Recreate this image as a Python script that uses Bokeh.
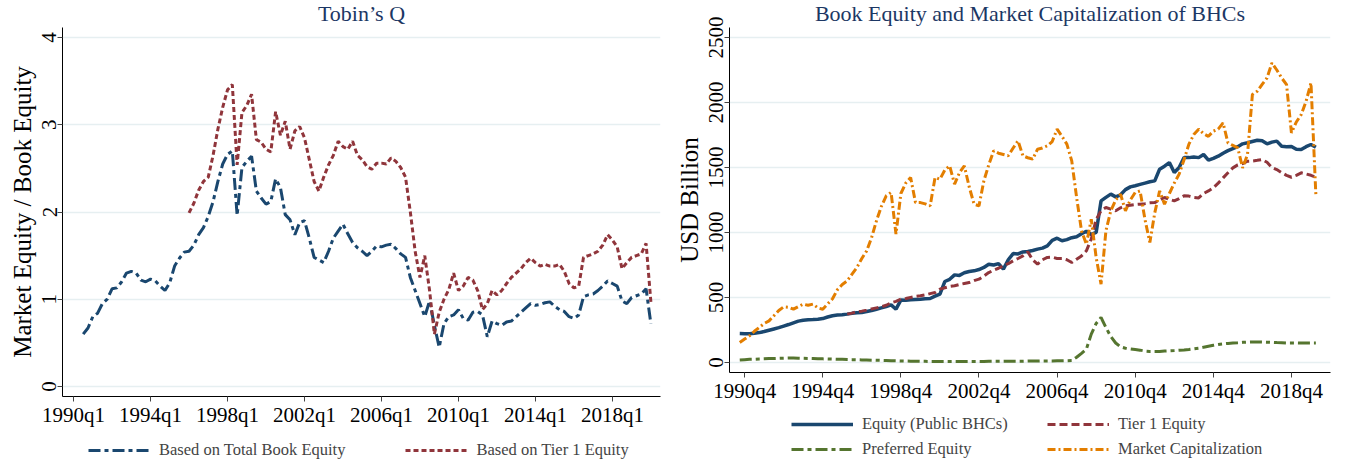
from bokeh.plotting import figure
from bokeh.models import Range1d, Legend, LegendItem, FixedTicker
from bokeh.layouts import row, column
from bokeh.embed import file_html
from bokeh.resources import INLINE

# ---------------- data: left panel (Tobin's Q) ----------------
tq_total_start = "1990q3"
tq_total = [
    0.60, 0.67,
    0.80, 0.84, 0.95, 1.00,
    1.12, 1.13, 1.20, 1.30,
    1.32, 1.30, 1.22, 1.20,
    1.23, 1.21, 1.15, 1.10,
    1.19, 1.38, 1.47, 1.54,
    1.55, 1.62, 1.74, 1.82,
    1.95, 2.12, 2.35, 2.55,
    2.66, 2.70, 1.96, 2.51,
    2.58, 2.64, 2.24, 2.16,
    2.09, 2.12, 2.38, 2.28,
    1.97, 1.91, 1.74, 1.88,
    1.90, 1.70, 1.48, 1.45,
    1.42, 1.55, 1.70, 1.78,
    1.86, 1.75, 1.65, 1.59,
    1.55, 1.50, 1.55, 1.61,
    1.60, 1.62, 1.63, 1.58,
    1.52, 1.48, 1.25, 1.10,
    0.95, 0.80, 0.98, 0.70,
    0.45, 0.72, 0.80, 0.82,
    0.88, 0.78, 0.76, 0.85,
    0.86, 0.82, 0.57, 0.75,
    0.72, 0.70, 0.74, 0.75,
    0.80, 0.85, 0.90, 0.95,
    0.93, 0.94, 0.96, 0.97,
    0.92, 0.88, 0.86, 0.80,
    0.78, 0.82, 1.03, 1.05,
    1.06, 1.10, 1.15, 1.21,
    1.18, 1.15, 0.98, 0.95,
    1.02, 1.04, 1.06, 1.12,
    0.72,
]
tq_tier1_start = "1996q1"
tq_tier1 = [
    1.99, 2.10, 2.25, 2.35,
    2.40, 2.65, 2.95, 3.20,
    3.40, 3.46, 2.54, 3.14,
    3.22, 3.35, 2.83, 2.80,
    2.72, 2.69, 3.15, 2.88,
    3.04, 2.72, 2.93, 2.98,
    2.85, 2.60, 2.35, 2.24,
    2.40, 2.54, 2.65, 2.81,
    2.75, 2.72, 2.81, 2.65,
    2.60, 2.52, 2.49, 2.56,
    2.56, 2.55, 2.62, 2.58,
    2.51, 2.40, 2.00, 1.55,
    1.25, 1.50, 1.10, 0.60,
    0.85, 1.00, 1.11, 1.30,
    1.10, 1.15, 1.25, 1.22,
    1.10, 0.88, 0.95, 1.10,
    1.05, 1.10, 1.18, 1.25,
    1.30, 1.35, 1.42, 1.47,
    1.42, 1.38, 1.40, 1.38,
    1.38, 1.40, 1.32, 1.18,
    1.13, 1.15, 1.48, 1.50,
    1.52, 1.55, 1.62, 1.74,
    1.68, 1.60, 1.35, 1.42,
    1.48, 1.50, 1.52, 1.64,
    0.97,
]
left_tick_labels = ["1990q1", "1994q1", "1998q1", "2002q1", "2006q1", "2010q1", "2014q1", "2018q1"]
left_y_ticks = [0, 1, 2, 3, 4]

# ---------------- data: right panel (USD billion) ----------------
bhc_start = "1990q3"
equity_public = [
    223, 222,
    222, 225, 230, 238,
    248, 258, 268, 280,
    292, 305, 318, 325,
    328, 330, 333, 338,
    350, 360, 365, 368,
    372, 378, 382, 385,
    392, 400, 410, 420,
    430, 443, 410, 480,
    478, 482, 485, 487,
    490, 492, 510, 525,
    623, 640, 674, 670,
    690, 700, 705, 715,
    731, 756, 750, 761,
    718, 790, 838, 835,
    850, 854, 862, 872,
    880, 897, 940, 956,
    936, 945, 960, 967,
    990, 1010, 985, 1000,
    1243, 1270, 1295, 1274,
    1290, 1330, 1351, 1360,
    1370, 1380, 1390, 1397,
    1487, 1510, 1538, 1461,
    1500, 1577, 1576, 1580,
    1576, 1600, 1556, 1570,
    1587, 1610, 1630, 1646,
    1660, 1682, 1690, 1700,
    1710, 1705, 1682, 1695,
    1703, 1664, 1660, 1662,
    1640, 1638, 1660, 1677,
    1656,
]
tier1_start = "1996q1"
tier1_equity = [
    372, 380, 390, 395,
    403, 412, 420, 428,
    440, 460, 470, 487,
    492, 500, 508, 513,
    520, 530, 538, 564,
    575, 585, 590, 600,
    608, 615, 630, 641,
    665, 692, 710, 725,
    744, 760, 782, 800,
    820, 851, 790, 756,
    790, 808, 810, 800,
    800, 790, 769, 795,
    820, 859, 950, 1100,
    1167, 1192, 1180, 1167,
    1190, 1205, 1210, 1215,
    1218, 1222, 1228, 1230,
    1250, 1269, 1255, 1243,
    1260, 1282, 1280, 1270,
    1266, 1300, 1320, 1344,
    1380, 1420, 1460, 1497,
    1520, 1530, 1548, 1550,
    1555, 1561, 1540, 1500,
    1484, 1460, 1440, 1425,
    1440, 1459, 1450, 1440,
    1425,
]
preferred_equity = [
    20, 22,
    24, 25, 27, 28,
    30, 31, 32, 33,
    34, 34, 33, 32,
    31, 30, 29, 28,
    27, 26, 25, 24,
    23, 22, 21, 20,
    19, 18, 17, 16,
    15, 14, 13, 12,
    11, 10, 10, 9,
    9, 8, 8, 8,
    8, 8, 8, 8,
    8, 8, 8, 8,
    8, 9, 9, 9,
    9, 10, 10, 10,
    10, 11, 11, 11,
    12, 12, 12, 13,
    13, 14, 15, 40,
    70, 103, 218, 300,
    346, 269, 200, 150,
    120, 110, 105, 100,
    95, 88, 85, 85,
    85, 88, 90, 92,
    95, 97, 100, 105,
    110, 118, 125, 132,
    138, 143, 147, 150,
    152, 155, 157, 158,
    158, 157, 156, 155,
    153, 152, 150, 150,
    150, 149, 150, 150,
    150,
]
market_cap = [
    154, 180,
    205, 240, 270, 300,
    320, 360, 400, 428,
    425, 410, 430, 449,
    440, 449, 420, 410,
    450, 490, 560, 600,
    628, 680, 731, 800,
    859, 960, 1090, 1200,
    1282, 1308, 987, 1300,
    1380, 1423, 1230, 1230,
    1220, 1205, 1423, 1410,
    1480, 1513, 1372, 1460,
    1513, 1350, 1218, 1205,
    1397, 1520, 1628, 1610,
    1600, 1590, 1650, 1705,
    1590, 1575, 1564, 1641,
    1650, 1667, 1700, 1795,
    1740, 1680, 1551, 1269,
    1013, 910, 1102, 808,
    603, 1013, 1167, 1250,
    1295, 1167, 1250, 1308,
    1320, 1100, 923, 1150,
    1320, 1218, 1300, 1380,
    1449, 1560, 1680, 1753,
    1795, 1760, 1740, 1780,
    1795, 1843, 1689, 1670,
    1651, 1497, 1600, 2061,
    2087, 2140, 2189, 2305,
    2250, 2189, 2138, 1766,
    1850, 1907, 2010, 2151,
    1292,
]
right_tick_labels = ["1990q4", "1994q4", "1998q4", "2002q4", "2006q4", "2010q4", "2014q4", "2018q4"]
right_y_ticks = [0, 500, 1000, 1500, 2000, 2500]

# ---------------- helpers ----------------
def qnum(s):
    y, q = s.split("q")
    return int(y) * 4 + int(q) - 1

def xs(start, base, n):
    s = qnum(start) - qnum(base)
    return list(range(s, s + n))

NAVY = "#1a476f"
MAROON = "#90353b"
GREEN = "#55752f"
ORANGE = "#e37e00"
GRID = "#e6eff1"
TITLE_C = "#1c3764"
FONT = "Liberation Serif"

STYLES = {
    "total": dict(line_color=NAVY, line_width=3, line_dash="12 4 4 4"),
    "tier1_q": dict(line_color=MAROON, line_width=3, line_dash="5 3"),
    "equity": dict(line_color=NAVY, line_width=3.5),
    "tier1": dict(line_color=MAROON, line_width=3, line_dash="8 4"),
    "pref": dict(line_color=GREEN, line_width=3, line_dash="12 4 4 4"),
    "mcap": dict(line_color=ORANGE, line_width=3, line_dash="8 3 2 3"),
}

def style(p, xticks, xlabels, yticks):
    p.title.align = "center"
    p.title.vertical_align = "top"
    p.title.text_font = FONT
    p.title.text_font_size = "22px"
    p.title.text_font_style = "normal"
    p.title.text_color = TITLE_C
    p.title.standoff = 0
    p.outline_line_color = None
    p.background_fill_color = "white"
    p.border_fill_color = "white"
    p.xgrid.grid_line_color = None
    p.ygrid.grid_line_color = GRID
    p.ygrid.grid_line_width = 1.5
    p.xaxis.ticker = FixedTicker(ticks=xticks)
    p.xaxis.major_label_overrides = {t: l for t, l in zip(xticks, xlabels)}
    p.yaxis.ticker = FixedTicker(ticks=yticks)
    p.yaxis.major_label_orientation = "vertical"
    for ax in (p.xaxis, p.yaxis):
        ax.minor_tick_line_color = None
        ax.major_tick_in = 0
        ax.major_tick_out = 5
        ax.axis_line_color = "black"
        ax.major_tick_line_color = "#444444"
        ax.major_label_text_font = FONT
        ax.major_label_text_font_size = "21px"
        ax.major_label_text_color = "black"
        ax.axis_label_text_font = FONT
        ax.axis_label_text_font_style = "normal"
        ax.axis_label_text_color = "black"
        ax.major_label_standoff = 1
    p.yaxis.axis_label_text_font_size = "25px"
    p.yaxis.axis_label_standoff = 4

NAN = float("nan")

def legend_fig(width, height, entries, loc, spacing, label_width=None):
    f = figure(width=width, height=height, output_backend="svg", toolbar_location=None,
               x_range=Range1d(0, 1), y_range=Range1d(0, 1),
               x_axis_type=None, y_axis_type=None, min_border=0)
    f.outline_line_color = None
    f.grid.grid_line_color = None
    items = []
    for label, key in entries:
        r = f.line(x=[NAN], y=[NAN], **STYLES[key])   # style sample for the legend key only
        items.append(LegendItem(label=label, renderers=[r]))
    leg = Legend(items=items, location=loc, orientation="horizontal", ncols=2,
                 label_text_font=FONT, label_text_font_size="16.5px",
                 glyph_width=62, glyph_height=18, label_height=18, label_standoff=9,
                 spacing=spacing, padding=0, margin=0,
                 border_line_color=None, background_fill_alpha=0)
    if label_width:
        leg.label_width = label_width
    f.add_layout(leg, "center")
    return f

# ---------------- left figure ----------------
p1 = figure(frame_width=598, frame_height=369, output_backend="svg", toolbar_location=None,
            x_range=Range1d(-2.3, 122), y_range=Range1d(-0.115, 4.115),
            title="Tobin\u2019s Q",
            min_border_left=62, min_border_right=12, min_border_top=25, min_border_bottom=32)
left_base = "1990q1"
lt = [qnum(l) - qnum(left_base) for l in left_tick_labels]
style(p1, lt, left_tick_labels, left_y_ticks)
p1.yaxis.axis_label = "Market Equity / Book Equity"

p1.line(xs(tq_total_start, left_base, len(tq_total)), tq_total, **STYLES["total"])
p1.line(xs(tq_tier1_start, left_base, len(tq_tier1)), tq_tier1, **STYLES["tier1_q"])

l1 = legend_fig(672, 31, [("Based on Total Book Equity", "total"),
                          ("Based on Tier 1 Equity", "tier1_q")], (26, 0), 60)

# ---------------- right figure ----------------
p2 = figure(frame_width=601, frame_height=345, output_backend="svg", toolbar_location=None,
            x_range=Range1d(-3.1, 120), y_range=Range1d(-77, 2577),
            title="Book Equity and Market Capitalization of BHCs",
            min_border_left=55, min_border_right=4, min_border_top=25, min_border_bottom=36)
right_base = "1990q4"
rt = [qnum(l) - qnum(right_base) for l in right_tick_labels]
style(p2, rt, right_tick_labels, right_y_ticks)
p2.yaxis.axis_label = "USD Billion"

p2.line(xs(bhc_start, right_base, len(equity_public)), equity_public, **STYLES["equity"])
p2.line(xs(tier1_start, right_base, len(tier1_equity)), tier1_equity, **STYLES["tier1"])
p2.line(xs(bhc_start, right_base, len(preferred_equity)), preferred_equity, **STYLES["pref"])
p2.line(xs(bhc_start, right_base, len(market_cap)), market_cap, **STYLES["mcap"])

l2 = legend_fig(660, 51, [("Equity (Public BHCs)", "equity"),
                          ("Tier 1 Equity", "tier1"),
                          ("Preferred Equity", "pref"),
                          ("Market Capitalization", "mcap")], (62, 0), 5, label_width=180)

layout = row(column(p1, l1), column(p2, l2))
open("out.html", "w").write(file_html(layout, INLINE))
